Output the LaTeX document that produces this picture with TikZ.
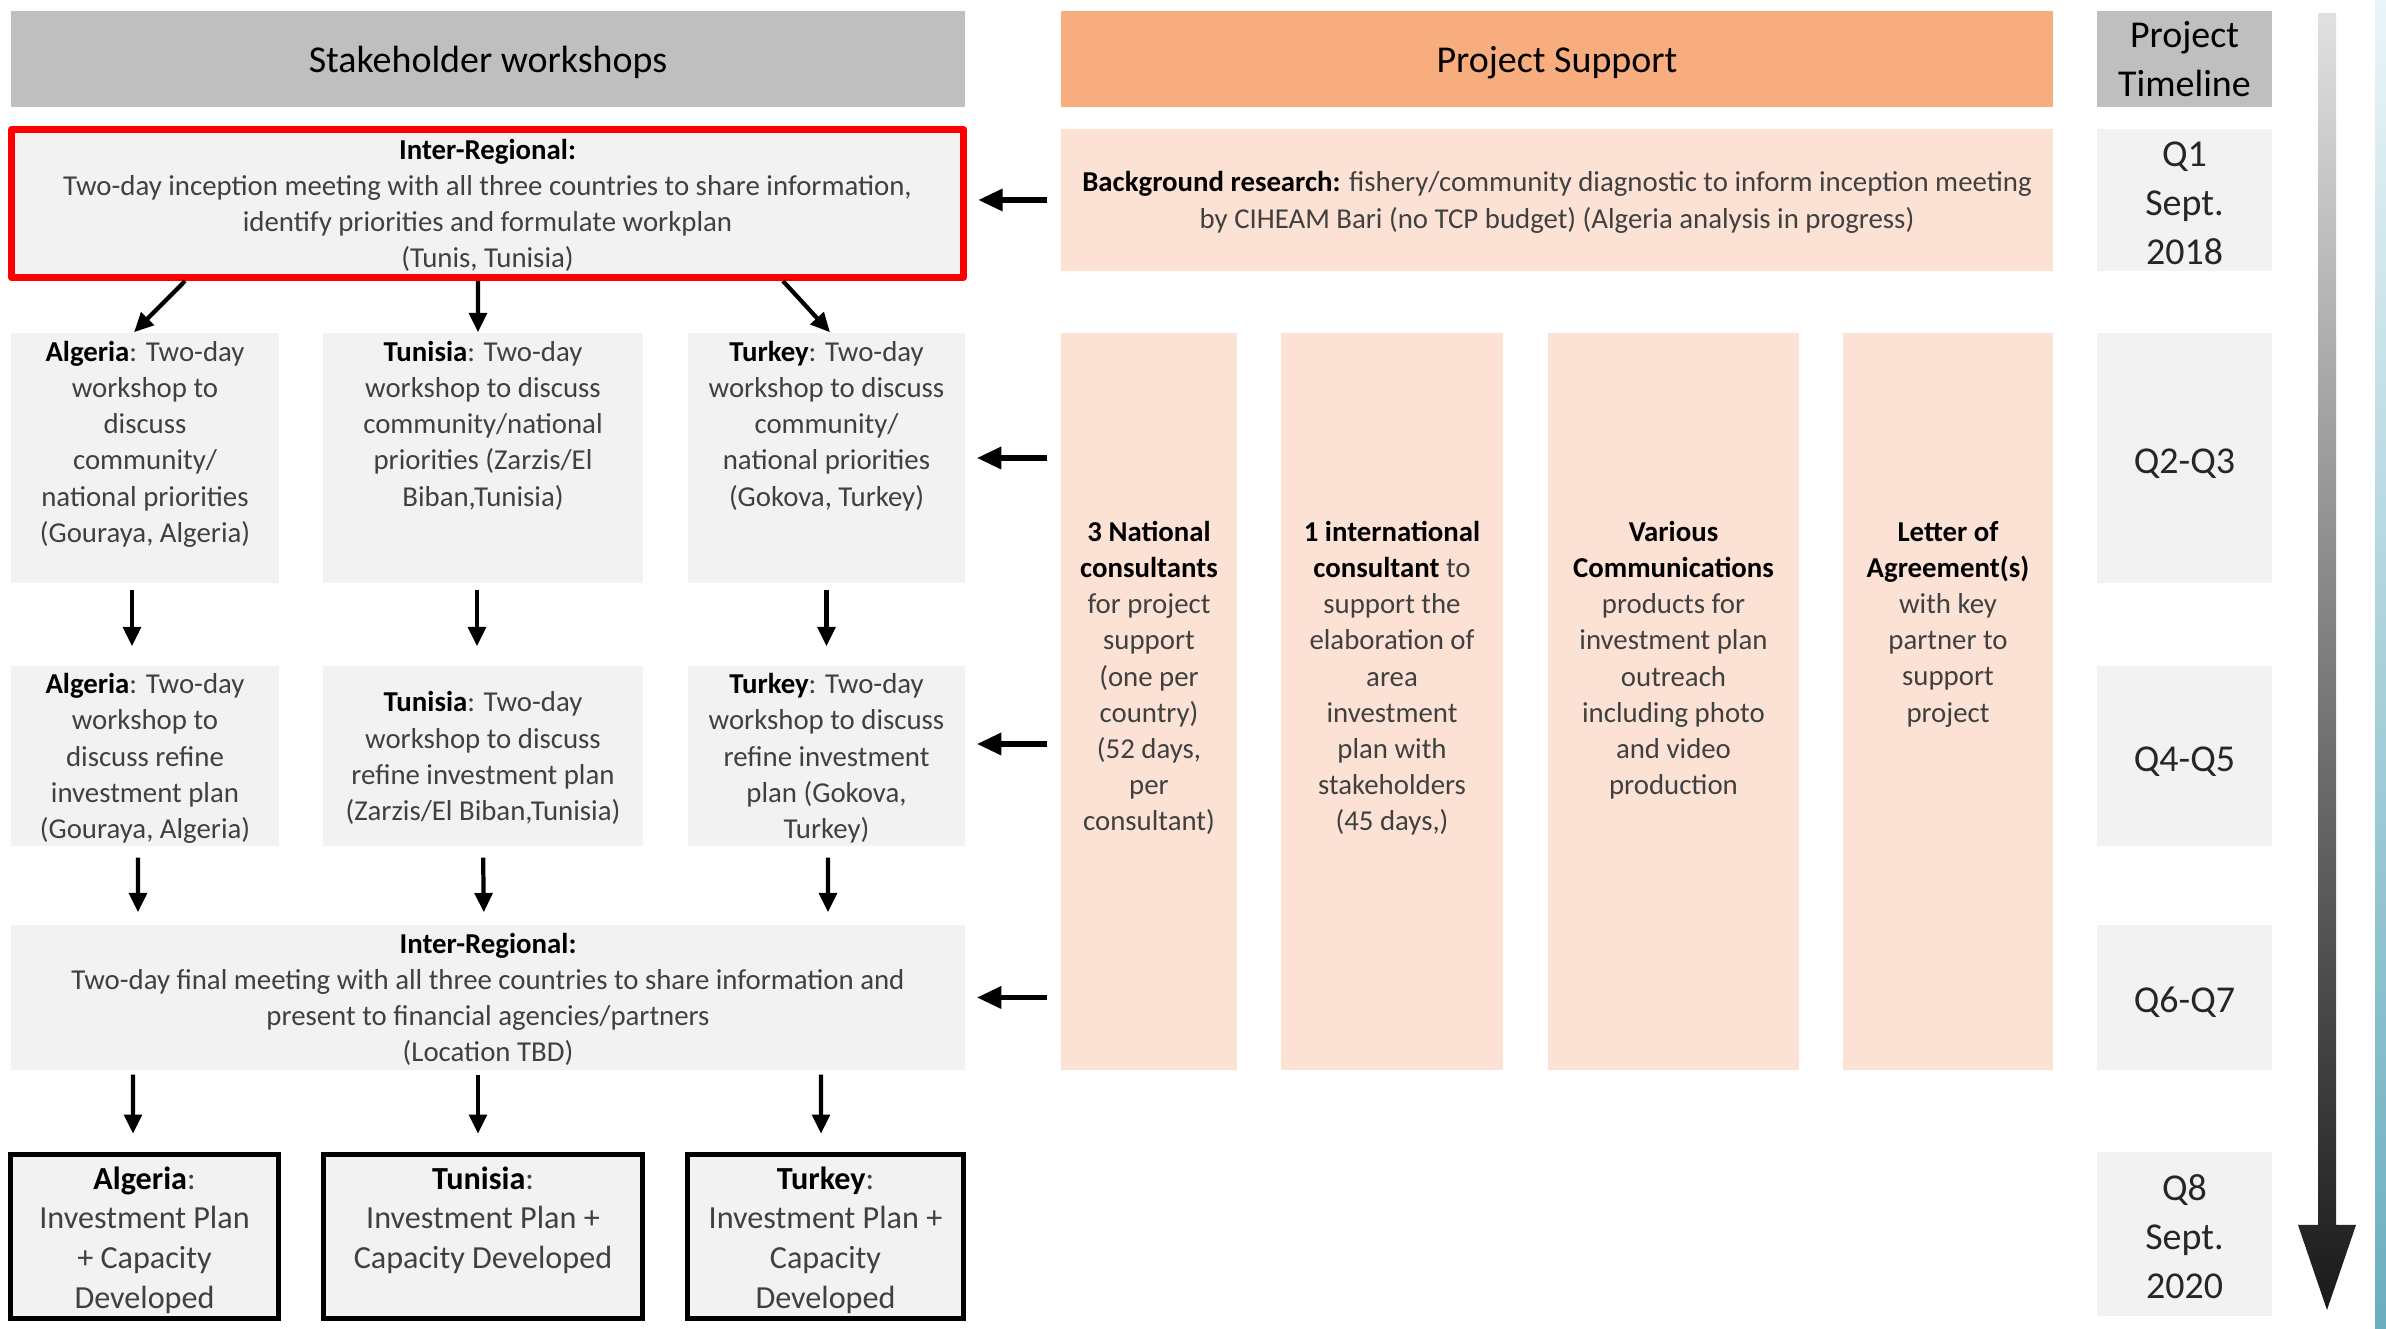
\documentclass[tikz,border=0pt]{standalone}
\usepackage{fontspec}
\setmainfont{Carlito}
\usetikzlibrary{arrows.meta}

\definecolor{hdrgray}{HTML}{BFBFBF}
\definecolor{boxgray}{HTML}{F2F2F2}
\definecolor{hdrorange}{HTML}{F8AD7E}
\definecolor{peach}{HTML}{FCE2D4}
\definecolor{txtgray}{HTML}{404040}
\definecolor{slidetop}{HTML}{EAF5F7}
\definecolor{slidebot}{HTML}{6AAEBF}

\newcommand{\bodyfont}{\fontsize{8.2}{10.3}\selectfont}
\newcommand{\bigfont}{\fontsize{10.8}{13.9}\selectfont}
\newcommand{\outfont}{\fontsize{9.15}{11.3}\selectfont}
\newcommand{\lbl}[1]{{\color{black}\bfseries #1}}

\begin{document}
\begin{tikzpicture}[
    hdr/.style={fill=hdrgray, inner sep=0, minimum height=0.96cm, font=\bigfont, text=black, text height=9.3pt},
    sbox/.style={fill=boxgray, inner sep=0},
    pbox/.style={fill=peach, inner sep=0},
    tbox/.style={fill=boxgray, inner sep=0, minimum width=1.75cm, font=\bigfont, align=center, text=black!85},
    tone/.style={tbox, text height=10pt},
    tmulti/.style={tbox, text height=36.6pt},
    txt/.style={align=center, inner sep=0, font=\bodyfont, text=txtgray},
    ctr/.style={text depth=0pt},
    endbox/.style={draw=black, line width=1.5pt, fill=boxgray, inner sep=0},
    arr/.style={line width=1.2pt, -{Triangle[length=5.5pt,width=5pt]}},
    sidearr/.style={line width=1.7pt, -{Triangle[length=7pt,width=6pt]}, shorten <=0.13cm, shorten >=0.11cm}
  ]
                \useasboundingbox (0,0) rectangle (23.86,-13.29);
                \fill[white] (0,0) rectangle (23.86,-13.29);

                % Column headers
                \node[hdr, minimum width=9.54cm] (hdrWork) at (4.88,-0.59) {Stakeholder workshops};
                \node[hdr, fill=hdrorange, minimum width=9.92cm] (hdrSupp) at (15.57,-0.59) {Project Support};
                \node[tbox, fill=hdrgray, text=black, minimum height=0.96cm] (hdrTime) at (21.845,-0.59) {Project\\Timeline};

                % Inception meeting
                \node[txt, ctr, draw=red, line width=2pt, line join=round, fill=boxgray,
                      minimum width=9.52cm, minimum height=1.48cm] (inter1) at (4.875,-2.035)
                      {\lbl{Inter-Regional:}\\Two-day inception meeting with all three countries to share information,\\identify priorities and formulate workplan\\(Tunis, Tunisia)};
                \node[pbox, txt, ctr, minimum width=9.92cm, minimum height=1.42cm] (bg) at (15.57,-2.00)
                      {\lbl{Background research:} fishery/community diagnostic to inform inception meeting\\by CIHEAM Bari (no TCP budget) (Algeria analysis in progress)};
                \node[tmulti, minimum height=1.42cm] (q1) at (21.845,-2.00) {Q1\\Sept.\\2018};

                % National workshops
                \node[sbox, minimum width=2.68cm, minimum height=2.50cm] (alg1) at (1.45,-4.58) {};
                \node[sbox, minimum width=3.20cm, minimum height=2.50cm] (tun1) at (4.83,-4.58) {};
                \node[sbox, minimum width=2.77cm, minimum height=2.50cm] (tur1) at (8.265,-4.58) {};
                \node[txt, anchor=north] (alg1t) at ([yshift=-0.08cm]alg1.north)
                      {\lbl{Algeria}: Two-day\\workshop to\\discuss\\community/\\national priorities\\(Gouraya, Algeria)};
                \node[txt, anchor=north] (tun1t) at ([yshift=-0.08cm]tun1.north)
                      {\lbl{Tunisia}: Two-day\\workshop to discuss\\community/national\\priorities (Zarzis/El\\Biban,Tunisia)};
                \node[txt, anchor=north] (tur1t) at ([yshift=-0.08cm]tur1.north)
                      {\lbl{Turkey}: Two-day\\workshop to discuss\\community/\\national priorities\\(Gokova, Turkey)};
                \node[tone, minimum height=2.50cm] (q23) at (21.845,-4.58) {Q2-Q3};

                % Support columns
                \node[pbox, minimum width=1.76cm, minimum height=7.37cm] (col1) at (11.49,-7.015) {};
                \node[pbox, minimum width=2.22cm, minimum height=7.37cm] (col2) at (13.92,-7.015) {};
                \node[pbox, minimum width=2.51cm, minimum height=7.37cm] (col3) at (16.735,-7.015) {};
                \node[pbox, minimum width=2.10cm, minimum height=7.37cm] (col4) at (19.48,-7.015) {};
                \node[txt, anchor=north] (col1t) at ([yshift=-1.88cm]col1.north)
                      {\lbl{3 National}\\\lbl{consultants}\\for project\\support\\(one per\\country)\\(52 days,\\per\\consultant)};
                \node[txt, anchor=north] (col2t) at ([yshift=-1.88cm]col2.north)
                      {\lbl{1 international}\\\lbl{consultant} to\\support the\\elaboration of\\area\\investment\\plan with\\stakeholders\\(45 days,)};
                \node[txt, anchor=north] (col3t) at ([yshift=-1.88cm]col3.north)
                      {\lbl{Various}\\\lbl{Communications}\\products for\\investment plan\\outreach\\including photo\\and video\\production};
                \node[txt, anchor=north] (col4t) at ([yshift=-1.88cm]col4.north)
                      {\lbl{Letter of}\\\lbl{Agreement(s)}\\with key\\partner to\\support\\project};

                % Refinement workshops
                \node[sbox, txt, ctr, minimum width=2.68cm, minimum height=1.80cm] (alg2) at (1.45,-7.56)
                      {\lbl{Algeria}: Two-day\\workshop to\\discuss refine\\investment plan\\(Gouraya, Algeria)};
                \node[sbox, txt, ctr, minimum width=3.20cm, minimum height=1.80cm] (tun2) at (4.83,-7.56)
                      {\lbl{Tunisia}: Two-day\\workshop to discuss\\refine investment plan\\(Zarzis/El Biban,Tunisia)};
                \node[sbox, txt, ctr, minimum width=2.77cm, minimum height=1.80cm] (tur2) at (8.265,-7.56)
                      {\lbl{Turkey}: Two-day\\workshop to discuss\\refine investment\\plan (Gokova,\\Turkey)};
                \node[tone, minimum height=1.80cm] (q45) at (21.845,-7.56) {Q4-Q5};

                % Final meeting
                \node[sbox, txt, ctr, minimum width=9.54cm, minimum height=1.45cm] (inter2) at (4.88,-9.975)
                      {\lbl{Inter-Regional:}\\Two-day final meeting with all three countries to share information and\\present to financial agencies/partners\\(Location TBD)};
                \node[tone, minimum height=1.45cm] (q67) at (21.845,-9.975) {Q6-Q7};

                % Outcomes
                \node[endbox, minimum width=2.68cm, minimum height=1.64cm] (alg3) at (1.445,-12.365) {};
                \node[endbox, minimum width=3.19cm, minimum height=1.64cm] (tun3) at (4.83,-12.365) {};
                \node[endbox, minimum width=2.76cm, minimum height=1.64cm] (tur3) at (8.255,-12.365) {};
                \node[txt, font=\outfont, anchor=north] (alg3t) at ([yshift=-0.14cm]alg3.north)
                      {\lbl{Algeria}:\\Investment Plan\\+ Capacity\\Developed};
                \node[txt, font=\outfont, anchor=north] (tun3t) at ([yshift=-0.14cm]tun3.north)
                      {\lbl{Tunisia}:\\Investment Plan +\\Capacity Developed};
                \node[txt, font=\outfont, anchor=north] (tur3t) at ([yshift=-0.14cm]tur3.north)
                      {\lbl{Turkey}:\\Investment Plan +\\Capacity\\Developed};
                \node[tmulti, minimum height=1.64cm] (q8) at (21.845,-12.34) {Q8\\Sept.\\2020};

                % Workshop flow
                \draw[arr] ([xshift=-3.025cm]inter1.south) -- ([xshift=-0.11cm]alg1.north);
                \draw[arr] ([xshift=-0.095cm]inter1.south) -- ([xshift=-0.05cm]tun1.north);
                \draw[arr] ([xshift=2.955cm]inter1.south) -- ([xshift=0.035cm]tur1.north);

                \draw[arr, shorten <=0.06cm, shorten >=0.19cm] ([xshift=-0.13cm]alg1.south) -- ([xshift=-0.13cm]alg2.north);
                \draw[arr, shorten <=0.06cm, shorten >=0.19cm] ([xshift=-0.06cm]tun1.south) -- ([xshift=-0.06cm]tun2.north);
                \draw[arr, shorten <=0.06cm, shorten >=0.19cm] (tur1.south) -- (tur2.north);

                \draw[arr, shorten <=0.11cm, shorten >=0.12cm] ([xshift=-0.07cm]alg2.south) -- ([xshift=-3.50cm]inter2.north);
                \draw[arr, shorten <=0.11cm, shorten >=0.12cm] (tun2.south) -- ([xshift=-0.04cm]inter2.north);
                \draw[arr, shorten <=0.11cm, shorten >=0.12cm] ([xshift=0.015cm]tur2.south) -- ([xshift=3.40cm]inter2.north);

                \draw[arr, shorten <=0.04cm, shorten >=0.18cm] ([xshift=-3.55cm]inter2.south) -- ([xshift=-0.115cm]alg3.north);
                \draw[arr, shorten <=0.04cm, shorten >=0.18cm] ([xshift=-0.10cm]inter2.south) -- ([xshift=-0.05cm]tun3.north);
                \draw[arr, shorten <=0.04cm, shorten >=0.18cm] ([xshift=3.33cm]inter2.south) -- ([xshift=-0.045cm]tur3.north);

                % Support feeds workshops
                \draw[sidearr] (bg.west) -- (bg.west -| inter1.east);
                \draw[sidearr] (tur1.east -| col1.west) -- (tur1.east);
                \draw[sidearr] ([yshift=0.12cm]tur2.east -| col1.west) -- ([yshift=0.12cm]tur2.east);
                \draw[sidearr] (inter2.east -| col1.west) -- (inter2.east);

                % Timeline arrow
                \shade[top color=black!12, bottom color=black!90]
                      (23.18,-0.13) -- (23.36,-0.13) -- (23.36,-12.25) -- (23.56,-12.25)
                      -- (23.27,-13.10) -- (22.98,-12.25) -- (23.18,-12.25) -- cycle;

                % Slide edge
                \shade[top color=slidetop, bottom color=slidebot] (23.75,0) rectangle (23.86,-13.29);
\end{tikzpicture}
\end{document}
